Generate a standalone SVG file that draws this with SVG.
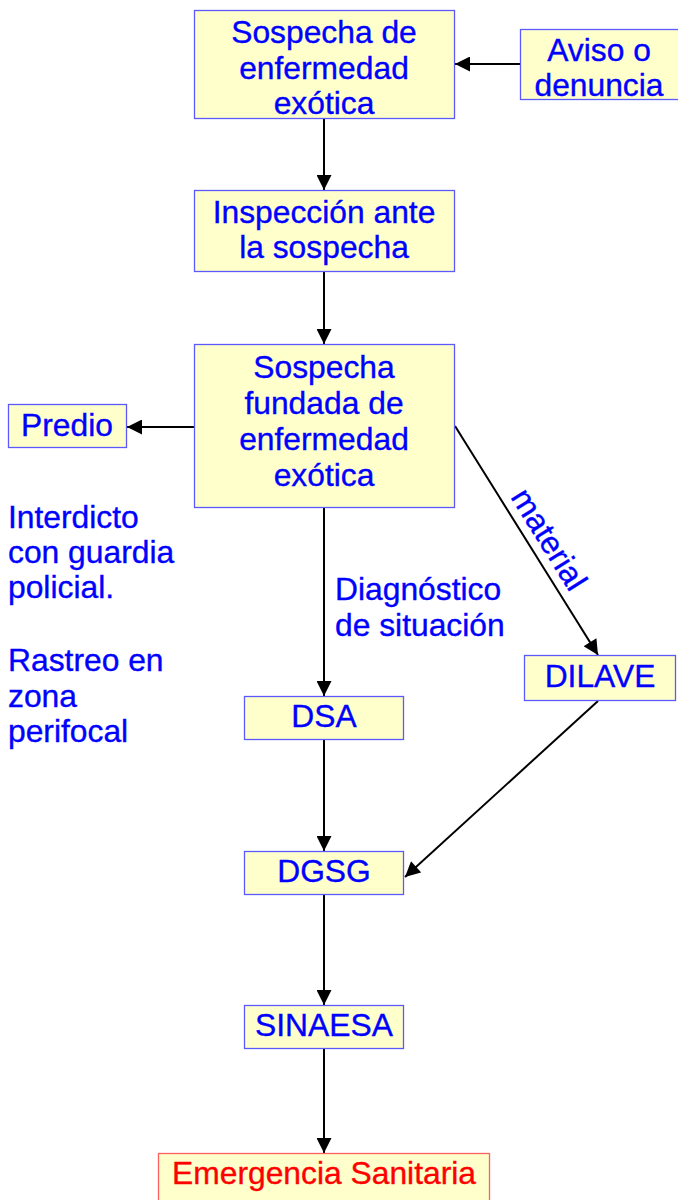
<svg xmlns="http://www.w3.org/2000/svg" width="678" height="1200" viewBox="0 0 678 1200">
<defs>
<style>
.box{fill:#FFFFCC;stroke:#5A5AFF;stroke-width:1.3}
.rbox{fill:#FFFFCC;stroke:#FF6060;stroke-width:1.3}
text{font-family:"Liberation Sans",Arial,sans-serif;font-size:31.8px;fill:#0000FF;stroke:#0000FF;stroke-width:0.35}
.c{text-anchor:middle}
.red{fill:#FF0000;stroke:#FF0000}
.ln{stroke:#000;stroke-width:2;fill:none;marker-end:url(#ah)}
</style>
<marker id="ah" viewBox="0 0 10 10" refX="10" refY="5" markerWidth="8" markerHeight="7.5" markerUnits="strokeWidth" orient="auto">
<path d="M0,0 L10,5 L0,10 z" fill="#000"/>
</marker>
</defs>
<rect width="678" height="1200" fill="#fff"/>
<g id="connectors">
<line class="ln" x1="520" y1="64" x2="455" y2="64"/>
<line class="ln" x1="324" y1="119" x2="324" y2="190"/>
<line class="ln" x1="324" y1="272" x2="324" y2="344"/>
<line class="ln" x1="194" y1="427" x2="127" y2="427"/>
<line class="ln" x1="455" y1="426" x2="598" y2="655"/>
<line class="ln" x1="324" y1="508" x2="324" y2="696"/>
<line class="ln" x1="598" y1="701" x2="405" y2="877"/>
<line class="ln" x1="324" y1="740" x2="324" y2="851"/>
<line class="ln" x1="324" y1="895" x2="324" y2="1005"/>
<line class="ln" x1="324" y1="1049" x2="324" y2="1153"/>
</g>
<g id="n-sospecha">
<rect class="box" x="194.5" y="10.5" width="260" height="108"/>
<text class="c" x="324" y="43">Sospecha de</text>
<text class="c" x="324" y="79">enfermedad</text>
<text class="c" x="324" y="114">exótica</text>
</g>
<g id="n-aviso">
<rect class="box" x="520.5" y="29.5" width="170" height="70"/>
<text class="c" x="599" y="61">Aviso o</text>
<text class="c" x="599" y="96">denuncia</text>
</g>
<g id="n-inspeccion">
<rect class="box" x="194.5" y="190.5" width="260" height="81"/>
<text class="c" x="324" y="223">Inspección ante</text>
<text class="c" x="324" y="258">la sospecha</text>
</g>
<g id="n-fundada">
<rect class="box" x="194.5" y="344.5" width="260" height="163"/>
<text class="c" x="324" y="378">Sospecha</text>
<text class="c" x="324" y="414">fundada de</text>
<text class="c" x="324" y="450">enfermedad</text>
<text class="c" x="324" y="486">exótica</text>
</g>
<g id="n-predio">
<rect class="box" x="8.5" y="404.5" width="118" height="43"/>
<text class="c" x="67" y="436">Predio</text>
</g>
<g id="t-interdicto">
<text x="8" y="528">Interdicto</text>
<text x="8" y="563">con guardia</text>
<text x="8" y="598">policial.</text>
<text x="8" y="671">Rastreo en</text>
<text x="8" y="707">zona</text>
<text x="8" y="742">perifocal</text>
</g>
<g id="t-diagnostico">
<text x="335" y="600">Diagnóstico</text>
<text x="335" y="636">de situación</text>
</g>
<g id="t-material">
<text class="c" transform="translate(540,545) rotate(58)" x="0" y="0">material</text>
</g>
<g id="n-dilave">
<rect class="box" x="524.5" y="655.5" width="151" height="45"/>
<text class="c" x="600" y="687">DILAVE</text>
</g>
<g id="n-dsa">
<rect class="box" x="244.5" y="696.5" width="159" height="43"/>
<text class="c" x="324" y="727">DSA</text>
</g>
<g id="n-dgsg">
<rect class="box" x="244.5" y="851.5" width="159" height="43"/>
<text class="c" x="324" y="882">DGSG</text>
</g>
<g id="n-sinaesa">
<rect class="box" x="244.5" y="1005.5" width="159" height="43"/>
<text class="c" x="324" y="1036">SINAESA</text>
</g>
<g id="n-emergencia">
<rect class="rbox" x="158.5" y="1153.5" width="331" height="60"/>
<text class="c red" x="324" y="1184">Emergencia Sanitaria</text>
</g>
</svg>
